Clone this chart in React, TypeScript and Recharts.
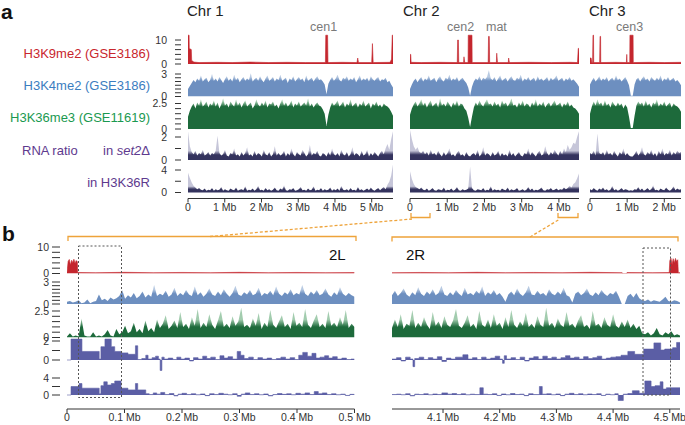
import React from 'react';
import { AreaChart, Area, XAxis, YAxis } from 'recharts';

type Pair = [number, number];
type Pt = { x: number; v: number };

// ---------- panel a: whole chromosomes (Mb) ----------
const chrNames = ['Chr 1', 'Chr 2', 'Chr 3'];
const chrLengths = [5.58, 4.54, 2.45];
const chrTicks = [[0, 1, 2, 3, 4, 5], [0, 1, 2, 3, 4], [0, 1, 2]];

// H3K9me2: [position Mb, signal]
const k9me2Chr1: Pair[] = [
  [0, 12], [0.03, 12], [0.035, 6.5], [0.09, 6], [0.1, 1.5], [0.16, 0.8], [0.3, 0.6], [0.8, 0.7], [1.2, 0.6],
  [1.7, 0.8], [2.2, 0.6], [2.7, 0.7], [3.2, 0.6], [3.74, 0.6], [3.75, 12], [3.8, 12], [3.81, 0.6], [4.2, 0.7],
  [4.6, 0.6], [4.62, 2.5], [4.64, 0.6], [5.0, 0.6], [5.02, 8.5], [5.04, 0.6], [5.5, 0.7], [5.54, 2], [5.56, 12], [5.58, 12],
];
const k9me2Chr2: Pair[] = [
  [0, 4], [0.02, 4], [0.03, 0.7], [0.3, 0.6], [0.8, 0.7], [1.27, 0.6], [1.28, 10], [1.3, 10], [1.31, 0.6],
  [1.44, 0.6], [1.45, 3], [1.47, 0.6], [1.56, 0.6], [1.565, 12], [1.665, 12], [1.67, 0.6], [2.1, 0.6],
  [2.11, 11.5], [2.13, 11.5], [2.14, 0.6], [2.32, 0.6], [2.33, 4.5], [2.35, 0.6], [2.64, 0.6], [2.65, 2.5],
  [2.67, 0.6], [3.2, 0.7], [3.8, 0.6], [4.3, 0.7], [4.5, 0.6], [4.52, 6.5], [4.54, 6.5],
];
const k9me2Chr3: Pair[] = [
  [0, 2.5], [0.03, 2.5], [0.05, 0.6], [0.07, 0.6], [0.08, 12], [0.095, 12], [0.1, 0.6], [0.26, 0.6],
  [0.27, 11.5], [0.285, 11.5], [0.29, 0.6], [0.7, 0.7], [0.98, 0.6], [0.99, 4], [1.0, 0.6], [1.07, 0.6],
  [1.075, 12], [1.16, 12], [1.165, 0.6], [1.6, 0.7], [2.0, 0.6], [2.45, 0.7],
];

// evenly spaced bins (~50 kb) along each chromosome
const k4me2Chr1 = [
  1.0, 1.4, 1.8, 2.2, 1.9, 2.4, 2.1, 2.8, 2.0, 2.3, 2.5, 1.9, 2.2, 3.0, 2.1, 2.4, 2.0, 2.6, 2.2, 1.8,
  2.3, 2.7, 2.1, 2.4, 2.0, 2.9, 2.2, 2.5, 1.9, 2.3, 2.6, 2.1, 2.4, 2.2, 3.1, 2.0, 2.3, 2.5, 2.1, 2.7,
  2.2, 1.9, 2.4, 2.8, 2.1, 2.3, 2.6, 2.0, 2.4, 2.2, 2.9, 2.1, 2.3, 2.5, 1.8, 2.4, 2.2, 2.7, 2.0, 2.3,
  2.6, 2.2, 2.4, 1.9, 2.8, 2.1, 2.3, 2.5, 2.0, 2.4, 2.7, 2.2, 2.3, 2.0, 1.6, 0.3, 1.7, 2.2, 2.6, 2.1,
  2.4, 2.9, 2.2, 2.0, 2.5, 2.3, 2.7, 2.1, 2.4, 2.2, 2.6, 1.9, 2.3, 2.8, 2.1, 2.4, 2.2, 2.5, 2.0, 2.7,
  2.3, 2.1, 2.4, 2.6, 2.0, 2.3, 2.2, 2.5, 1.9, 2.1, 1.6, 1.2,
];
const k4me2Chr2 = [
  1.0, 1.6, 2.1, 2.4, 1.9, 2.3, 2.6, 2.0, 2.4, 2.2, 2.8, 2.1, 2.3, 2.5, 1.9, 2.4, 2.7, 2.2, 2.0, 2.5,
  2.3, 2.9, 2.1, 2.4, 2.2, 2.6, 2.0, 2.3, 2.5, 2.1, 1.8, 1.2, 0.1, 1.3, 2.0, 2.4, 2.2, 2.7, 2.1, 2.5,
  2.3, 2.6, 3.5, 2.4, 2.2, 2.6, 2.0, 2.4, 2.8, 2.1, 2.3, 2.5, 2.0, 2.4, 2.7, 2.2, 2.1, 2.5, 2.3, 2.9,
  2.0, 2.4, 2.2, 2.6, 2.1, 2.3, 2.5, 2.0, 2.7, 2.2, 2.4, 2.1, 2.3, 2.6, 2.0, 2.5, 2.2, 2.4, 2.8, 2.1,
  2.3, 2.5, 2.0, 2.4, 2.2, 2.6, 2.1, 2.3, 2.0, 1.7, 1.3,
];
const k4me2Chr3 = [
  1.6, 2.1, 2.5, 2.0, 2.3, 2.7, 2.1, 2.4, 2.2, 2.6, 2.0, 2.3, 2.5, 2.1, 2.8, 2.2, 2.4, 2.0, 2.3, 2.6,
  2.1, 1.5, 0.1, 0.1, 1.6, 2.3, 2.5, 2.0, 2.4, 2.7, 2.2, 2.4, 2.0, 2.6, 2.3, 2.1, 2.5, 2.2, 2.8, 2.0,
  2.4, 2.2, 2.6, 2.1, 2.3, 2.5, 2.0, 2.2, 1.9, 1.5,
];

const k36me3Chr1 = [
  1.2, 1.8, 2.2, 2.5, 2.0, 2.6, 2.3, 2.9, 2.2, 2.4, 2.7, 2.1, 2.5, 2.3, 2.8, 2.2, 2.6, 2.0, 2.4, 3.0,
  2.3, 2.5, 2.1, 2.7, 2.4, 2.2, 2.9, 2.3, 2.6, 2.1, 2.5, 2.8, 2.2, 2.4, 2.6, 2.0, 2.3, 2.9, 2.4, 2.2,
  2.6, 2.3, 2.8, 2.1, 2.5, 2.4, 2.7, 2.2, 2.4, 2.0, 2.5, 2.9, 2.3, 2.6, 2.2, 2.4, 2.8, 2.1, 2.5, 2.3,
  2.7, 2.2, 2.4, 2.6, 2.3, 3.0, 2.2, 2.5, 2.1, 2.4, 2.6, 2.3, 2.2, 1.9, 1.5, 0.3, 1.4, 2.1, 2.6, 2.3,
  2.5, 2.8, 2.2, 2.4, 2.7, 2.1, 2.5, 2.3, 2.9, 2.2, 2.4, 2.6, 2.1, 2.5, 2.3, 2.8, 2.2, 2.4, 2.6, 2.0,
  2.5, 2.3, 2.7, 2.2, 2.4, 2.1, 2.5, 2.3, 2.2, 2.0, 1.7, 1.3,
];
const k36me3Chr2 = [
  1.4, 2.0, 2.4, 2.7, 2.2, 2.5, 2.9, 2.3, 2.6, 2.1, 2.5, 2.8, 2.2, 2.4, 2.6, 2.1, 3.0, 2.3, 2.5, 2.2,
  2.7, 2.4, 2.1, 2.6, 2.3, 2.8, 2.2, 2.5, 2.4, 2.0, 1.8, 1.1, 0.2, 1.2, 2.1, 2.6, 2.3, 2.8, 2.4, 2.2,
  2.6, 2.9, 2.4, 2.5, 2.2, 2.7, 2.3, 2.5, 2.1, 2.8, 2.4, 2.6, 2.2, 2.5, 3.0, 2.3, 2.4, 2.1, 2.6, 2.3,
  2.8, 2.2, 2.5, 2.4, 2.1, 2.6, 2.3, 2.9, 2.2, 2.5, 2.3, 2.7, 2.1, 2.4, 2.6, 2.2, 2.5, 2.8, 2.3, 2.4,
  2.6, 2.1, 2.5, 2.3, 2.7, 2.2, 2.4, 2.1, 2.0, 1.8, 1.5,
];
const k36me3Chr3 = [
  1.5, 2.2, 2.7, 2.3, 2.9, 2.4, 2.6, 2.2, 2.8, 2.3, 2.5, 2.1, 2.7, 2.4, 2.2, 2.6, 2.3, 2.5, 2.0, 2.4,
  2.1, 1.2, 0.1, 0.1, 1.3, 2.3, 2.7, 2.4, 2.6, 2.2, 2.8, 2.3, 2.5, 2.1, 2.6, 2.4, 2.9, 2.2, 2.5, 2.3,
  2.7, 2.2, 2.4, 2.6, 2.1, 2.5, 2.3, 2.2, 2.0, 1.7,
];

const rnaSet2Chr1 = [
  2.5, 1.2, 0.7, 0.5, 0.8, 0.4, 0.6, 0.5, 0.9, 0.4, 0.5, 0.7, 0.4, 0.6, 0.5, 0.8, 2.1, 0.6, 0.4, 0.5,
  0.9, 0.4, 0.3, 0.6, 0.5, 1.0, 0.4, 0.5, 0.3, 0.7, 0.4, 0.6, 1.1, 0.4, 0.5, 0.3, 0.8, 0.4, 0.6, 0.5,
  0.3, 0.9, 0.5, 0.4, 0.7, 0.3, 0.5, 1.2, 0.4, 0.6, 0.4, 0.5, 0.8, 0.3, 0.6, 0.4, 1.0, 0.5, 0.3, 0.7,
  0.5, 0.4, 0.9, 0.6, 0.3, 0.5, 1.3, 0.4, 0.6, 0.5, 0.8, 0.4, 0.3, 0.6, 0.5, 0.3, 0.7, 0.4, 1.0, 0.5,
  0.4, 0.6, 0.3, 0.9, 0.5, 0.4, 0.7, 0.3, 0.5, 1.1, 0.4, 0.6, 0.5, 0.3, 0.8, 0.4, 0.5, 0.9, 0.3, 0.6,
  0.4, 0.7, 0.5, 0.3, 0.6, 0.8, 0.5, 1.0, 1.4, 0.9, 1.8, 2.5,
];
const rnaSet2Chr2 = [
  2.6, 1.8, 1.2, 0.9, 1.1, 0.7, 0.6, 0.8, 0.5, 0.7, 0.4, 0.9, 0.5, 0.6, 0.4, 0.8, 0.5, 0.3, 0.7, 0.4,
  0.6, 1.0, 0.4, 0.5, 0.3, 0.6, 0.8, 0.4, 0.5, 0.3, 0.7, 0.4, 0.3, 0.5, 0.6, 0.4, 0.9, 0.3, 0.5, 1.1,
  0.4, 0.6, 0.5, 0.3, 0.7, 0.4, 0.5, 0.8, 0.3, 0.6, 0.4, 0.5, 0.3, 0.9, 0.4, 0.6, 0.3, 0.5, 0.7, 0.4,
  0.3, 0.6, 0.5, 1.0, 0.4, 0.7, 0.5, 0.3, 0.6, 0.8, 0.4, 0.5, 1.2, 0.6, 0.4, 0.7, 0.5, 0.9, 0.6, 0.4,
  0.8, 0.5, 1.0, 0.7, 1.3, 0.9, 1.1, 1.5, 1.4, 2.0, 2.5,
];
const rnaSet2Chr3 = [
  0.6, 0.5, 0.8, 0.4, 2.3, 0.6, 0.5, 0.7, 0.4, 0.9, 0.5, 0.6, 0.4, 0.8, 0.5, 0.3, 0.7, 0.5, 1.0, 0.4,
  0.6, 0.4, 0.3, 0.3, 0.5, 0.8, 0.4, 0.6, 1.1, 0.5, 0.4, 0.7, 0.5, 0.9, 0.4, 0.6, 0.3, 0.8, 0.5, 1.0,
  0.4, 0.6, 0.5, 0.9, 0.4, 0.7, 0.5, 0.8, 0.6, 0.7,
];

const rnaK36RChr1 = [
  3.5, 2.6, 1.8, 1.2, 0.9, 0.6, 0.8, 0.5, 0.4, 0.7, 0.3, 0.5, 0.4, 0.8, 0.3, 0.6, 0.4, 0.5, 1.0, 0.3,
  0.6, 0.4, 0.3, 0.7, 0.5, 0.4, 0.9, 0.3, 0.5, 0.6, 0.4, 1.1, 0.3, 0.5, 0.4, 0.7, 0.3, 0.6, 1.2, 0.4,
  0.5, 0.3, 0.8, 0.4, 0.6, 0.3, 0.5, 0.9, 0.4, 0.3, 0.7, 0.5, 1.3, 0.4, 0.3, 0.6, 0.5, 0.8, 0.3, 0.4,
  0.6, 1.0, 0.4, 0.5, 0.3, 0.7, 0.4, 0.5, 1.1, 0.3, 0.5, 0.4, 0.8, 0.3, 0.6, 0.4, 0.5, 0.9, 0.3, 0.6,
  0.4, 0.7, 0.3, 1.2, 0.5, 0.4, 0.6, 0.3, 0.8, 0.4, 0.5, 0.3, 1.0, 0.4, 0.6, 0.3, 0.5, 0.7, 0.4, 0.9,
  0.5, 0.3, 0.6, 0.8, 0.4, 0.7, 1.0, 0.6, 1.4, 1.9, 3.0, 5.0,
];
const rnaK36RChr2 = [
  3.8, 2.4, 1.5, 1.0, 0.8, 0.6, 0.9, 0.5, 0.4, 0.7, 0.3, 0.5, 0.8, 0.4, 0.3, 0.6, 0.5, 0.4, 0.9, 0.3,
  0.5, 0.4, 0.7, 0.3, 0.5, 1.0, 0.4, 0.3, 0.6, 0.4, 0.5, 0.7, 4.6, 0.8, 0.4, 0.3, 0.6, 0.5, 0.4, 0.8,
  0.3, 0.5, 0.4, 1.1, 0.3, 0.6, 0.4, 0.5, 0.3, 0.7, 0.5, 0.4, 0.9, 0.3, 0.6, 0.4, 0.5, 0.8, 0.3, 0.4,
  0.6, 0.3, 0.5, 1.0, 0.4, 0.7, 0.3, 0.5, 0.4, 0.6, 0.9, 0.4, 0.3, 0.6, 0.5, 0.8, 0.4, 0.5, 0.7, 0.4,
  0.6, 0.5, 0.9, 0.6, 0.8, 1.2, 0.9, 1.5, 1.8, 2.5, 3.4,
];
const rnaK36RChr3 = [
  0.6, 0.4, 0.8, 0.5, 0.3, 0.7, 0.5, 0.9, 0.4, 0.6, 0.3, 0.5, 1.2, 0.4, 0.6, 0.3, 0.5, 0.8, 0.4, 0.6,
  0.5, 0.3, 0.4, 0.3, 0.6, 0.5, 1.0, 0.4, 0.7, 0.3, 0.5, 0.8, 0.4, 0.6, 1.3, 0.4, 0.5, 0.3, 0.7, 0.5,
  0.4, 0.9, 0.5, 0.3, 0.6, 1.1, 0.4, 0.7, 0.5, 0.6,
];

// ---------- panel b: chr2 ends, 2L and 2R ----------
const windowL: [number, number] = [0, 0.5];
const windowR: [number, number] = [4.01, 4.518];
const ticksL = [0, 0.1, 0.2, 0.3, 0.4, 0.5];
const ticksR = [4.1, 4.2, 4.3, 4.4, 4.5];

const k9me2L: Pair[] = [
  [0, 0.4], [0.002, 4.6], [0.004, 5.3], [0.006, 3.2], [0.008, 5.0], [0.01, 4.1], [0.012, 5.4], [0.014, 3.8],
  [0.016, 4.9], [0.018, 4.4], [0.0185, 0.4], [0.05, 0.3], [0.1, 0.45], [0.15, 0.3], [0.2, 0.4], [0.25, 0.3],
  [0.3, 0.45], [0.35, 0.3], [0.4, 0.4], [0.45, 0.3], [0.5, 0.35],
];
const k9me2R: Pair[] = [
  [4.01, 0.3], [4.06, 0.4], [4.11, 0.3], [4.16, 0.45], [4.21, 0.3], [4.26, 0.4], [4.31, 0.3], [4.36, 0.45],
  [4.416, 0.3], [4.4165, 0], [4.424, 0], [4.4245, 0.35], [4.47, 0.3], [4.499, 0.35], [4.5, 4.8], [4.502, 5.8],
  [4.504, 3.4], [4.506, 5.6], [4.508, 4.0], [4.51, 5.7], [4.512, 4.5], [4.514, 5.2], [4.515, 0.3], [4.518, 0.3],
];

const k4me2L = [
  0.3, 0.4, 0.2, 0.3, 0.5, 0.1, 0.2, 0.6, 0.1, 0.3, 0.4, 1.3, 0.5, 0.7, 0.4, 0.9, 0.6, 0.8, 1.1, 1.9,
  0.7, 1.2, 0.9, 1.5, 0.8, 1.1, 1.7, 0.9, 1.3, 1.0, 2.6, 1.1, 1.4, 1.2, 1.8, 1.0, 1.3, 2.2, 1.1, 1.5,
  1.2, 1.9, 1.3, 1.1, 2.4, 1.2, 1.6, 1.0, 1.4, 2.1, 1.3, 1.1, 1.7, 1.2, 2.0, 1.4, 1.0, 1.5, 2.5, 1.3,
  1.1, 1.6, 1.3, 1.9, 1.2, 1.4, 2.2, 1.1, 1.5, 1.3, 1.8, 1.2, 2.4, 1.4, 1.1, 1.6, 1.3, 2.0, 1.2, 1.5,
  1.3, 2.6, 1.4, 1.1, 1.7, 1.3, 1.9, 1.2, 1.4, 2.1, 1.3, 1.0, 1.6, 1.2, 2.3, 1.4, 1.1, 1.5, 1.2, 1.0,
];
const k4me2R = [
  1.2, 1.8, 1.1, 1.5, 2.1, 1.3, 1.0, 1.6, 1.2, 2.3, 1.4, 1.1, 1.7, 1.3, 2.0, 1.2, 1.5, 2.5, 1.3, 1.1,
  1.6, 1.2, 1.9, 1.4, 1.1, 2.2, 1.3, 1.5, 1.2, 1.8, 1.4, 2.4, 1.1, 1.6, 1.3, 1.9, 1.2, 1.5, 1.0, 0.3,
  1.3, 1.7, 1.2, 2.1, 1.4, 1.1, 1.6, 2.5, 1.3, 1.2, 1.8, 1.3, 1.5, 1.1, 2.0, 1.4, 1.2, 1.7, 1.3, 2.2,
  1.2, 1.0, 0.2, 1.4, 1.7, 1.2, 1.5, 2.1, 1.3, 1.1, 1.6, 1.2, 1.9, 1.4, 1.1, 1.5, 1.3, 1.8, 1.0, 0.0,
  0.0, 1.1, 1.4, 0.9, 1.5, 0.8, 0.5, 0.4, 0.6, 0.3, 0.5, 0.4, 0.3, 0.6, 1.0, 0.4, 0.3, 0.5, 0.4, 0.2,
];

const k36me3L = [
  0.1, 0.4, 0.1, 0.2, 0.1, 1.8, 0.2, 0.1, 0.1, 0.5, 0.1, 0.2, 0.1, 0.3, 0.7, 0.2, 0.1, 0.8, 0.3, 0.5,
  1.1, 0.4, 0.6, 1.4, 0.5, 0.8, 0.4, 1.6, 0.6, 0.9, 0.5, 1.7, 0.9, 1.3, 2.1, 0.8, 1.1, 1.6, 0.9, 2.4,
  1.0, 1.3, 0.8, 1.9, 1.1, 2.7, 0.9, 1.4, 1.0, 2.2, 1.2, 0.8, 1.6, 2.5, 1.0, 1.3, 0.9, 2.0, 1.1, 1.5,
  2.8, 1.0, 1.2, 0.9, 1.8, 1.1, 2.3, 0.8, 1.4, 1.0, 2.6, 1.2, 0.9, 1.5, 2.1, 1.0, 1.3, 0.8, 2.4, 1.1,
  1.4, 1.0, 2.7, 1.2, 0.9, 1.6, 2.2, 1.0, 1.3, 0.9, 2.5, 1.1, 1.4, 1.0, 1.9, 1.2, 2.6, 0.9, 1.3, 1.0,
];
const k36me3R = [
  0.9, 1.7, 1.0, 2.2, 0.8, 1.3, 1.1, 2.6, 0.9, 1.4, 1.0, 1.9, 1.2, 0.8, 2.4, 1.1, 1.5, 0.9, 2.0, 1.2,
  1.0, 1.6, 2.7, 1.1, 0.9, 1.4, 2.1, 1.0, 1.3, 0.8, 2.5, 1.2, 1.0, 1.7, 0.9, 2.2, 1.1, 1.4, 0.8, 1.9,
  1.0, 2.6, 1.2, 0.9, 1.5, 1.1, 2.3, 1.0, 1.3, 0.9, 2.0, 1.2, 1.0, 2.8, 1.1, 1.4, 0.9, 1.8, 1.2, 1.0,
  2.4, 1.1, 1.3, 0.9, 1.6, 2.1, 1.0, 1.2, 0.8, 2.5, 1.1, 1.3, 0.9, 1.9, 1.2, 1.0, 2.2, 1.1, 0.9, 1.5,
  1.0, 1.7, 0.9, 1.3, 0.8, 1.1, 0.4, 0.3, 0.5, 0.2, 0.4, 0.9, 0.3, 0.2, 0.5, 0.3, 0.6, 0.2, 0.3, 0.2,
];

// RNA ratio segments: [segment start Mb, value]
const rnaSet2L: Pair[] = [
  [0, 0], [0.007, 2.2], [0.026, 0.9], [0.056, 0.1], [0.059, 1.4], [0.066, 2.2], [0.077, 1.4], [0.083, 0.9],
  [0.095, 0.75], [0.106, 0.6], [0.119, 1.5], [0.123, 0.05], [0.13, 0.15], [0.137, 0.5], [0.141, 0.1],
  [0.148, 0.25], [0.154, 0.4], [0.159, 0.1], [0.162, -1.1], [0.165, 0.3], [0.169, 0.1], [0.176, 0.2],
  [0.184, 0.05], [0.191, 0.3], [0.198, 0.1], [0.205, 0.2], [0.213, -0.1], [0.22, 0.25], [0.228, 0.1],
  [0.236, 0.4], [0.243, 0.15], [0.25, 0.3], [0.258, 0.05], [0.266, 0.45], [0.273, 0.2], [0.28, 0.35],
  [0.288, 0.1], [0.296, 0.9], [0.302, 0.5], [0.308, 0.15], [0.316, 0.3], [0.324, 0.05], [0.332, 0.25],
  [0.34, 0.1], [0.348, 0.2], [0.356, 0.05], [0.364, 0.15], [0.372, 0.3], [0.38, 0.1], [0.388, 0.25],
  [0.396, 0.05], [0.403, 0.5], [0.41, 0.8], [0.418, 0.4], [0.426, 0.7], [0.433, 0.2], [0.44, 0.3],
  [0.448, 0.45], [0.455, 0.2], [0.462, 0.35], [0.47, 0.1], [0.478, 0.2], [0.486, 0.05], [0.494, 0.1], [0.5, 0.1],
];
const rnaSet2R: Pair[] = [
  [4.01, 0.1], [4.018, 0.25], [4.026, -0.1], [4.034, 0.3], [4.042, 0.1], [4.047, -0.7], [4.05, 0.15],
  [4.058, 0.3], [4.066, 0.05], [4.074, 0.25], [4.082, 0.1], [4.09, 0.35], [4.098, -0.15], [4.106, 0.2],
  [4.114, 0.1], [4.122, 0.3], [4.135, 0.55], [4.144, 0.1], [4.152, 0.25], [4.16, 0.05], [4.168, 0.3],
  [4.176, 0.1], [4.184, 0.2], [4.192, 0.4], [4.2, 0.1], [4.205, -0.35], [4.208, 0.45], [4.212, 0.1],
  [4.22, 0.25], [4.228, 0.05], [4.236, 0.3], [4.244, -0.1], [4.252, 0.2], [4.26, 0.35], [4.268, 0.1],
  [4.276, 0.4], [4.284, 0.15], [4.292, 0.3], [4.3, 0.1], [4.308, 0.25], [4.316, 0.45], [4.324, 0.2],
  [4.332, 0.3], [4.34, 0.1], [4.348, 0.35], [4.356, 0.15], [4.364, 0.25], [4.372, 0.4], [4.38, 0.1],
  [4.388, 0.2], [4.396, 0.3], [4.405, 0.35], [4.414, 0.5], [4.426, 0.9], [4.438, 0.6], [4.454, 1.15],
  [4.472, 1.8], [4.484, 1.05], [4.491, 1.15], [4.505, 1.3], [4.512, 1.85], [4.518, 1.85],
];
const rnaK36RL: Pair[] = [
  [0, 0], [0.007, 2.0], [0.021, 2.7], [0.026, 1.6], [0.056, 0.3], [0.059, 2.2], [0.064, 3.1], [0.07, 2.35],
  [0.077, 2.7], [0.083, 3.3], [0.094, 1.6], [0.106, 1.2], [0.119, 2.7], [0.123, 1.2], [0.137, 0.3],
  [0.143, 0.1], [0.15, 0.5], [0.156, 0.2], [0.163, 0.6], [0.17, 0.1], [0.178, 0.35], [0.186, -0.2],
  [0.193, 0.2], [0.2, 0.4], [0.208, 0.1], [0.216, 0.3], [0.224, 0.05], [0.232, 0.25], [0.24, -0.15],
  [0.248, 0.3], [0.256, 0.1], [0.264, 0.4], [0.272, 0.2], [0.28, 0.05], [0.288, 0.3], [0.296, -0.3],
  [0.303, 0.2], [0.31, 0.5], [0.318, 0.1], [0.326, 0.3], [0.334, 0.05], [0.342, 0.25], [0.35, -0.2],
  [0.358, 0.1], [0.366, 0.35], [0.374, 0.15], [0.382, 0.3], [0.39, 0.05], [0.398, 0.4], [0.406, 0.2],
  [0.414, 0.5], [0.422, 0.1], [0.43, 0.8], [0.437, 0.3], [0.444, 0.5], [0.452, 0.1], [0.46, 0.3],
  [0.468, 0.05], [0.476, 0.2], [0.484, -0.1], [0.492, 0.15], [0.5, 0.15],
];
const rnaK36RR: Pair[] = [
  [4.01, 0.1], [4.018, 0.2], [4.026, 0.05], [4.034, 0.3], [4.042, -0.2], [4.05, 0.2], [4.058, 0.1],
  [4.066, 0.3], [4.074, 0.05], [4.082, 0.25], [4.09, 0.1], [4.098, 0.5], [4.108, 0.2], [4.116, 0.35],
  [4.124, 0.1], [4.132, 0.3], [4.14, 0.05], [4.148, 0.2], [4.156, 0.1], [4.165, 1.7], [4.171, 0.2],
  [4.179, 0.1], [4.187, 0.3], [4.195, -0.1], [4.203, 0.25], [4.211, 0.05], [4.219, 0.35], [4.227, 0.1],
  [4.235, 0.2], [4.243, -0.15], [4.251, 0.3], [4.259, 0.1], [4.27, 2.0], [4.275, 0.2], [4.283, 0.3],
  [4.291, 0.05], [4.299, 0.25], [4.307, -0.15], [4.315, 0.2], [4.323, 0.4], [4.331, 0.1], [4.339, 0.3],
  [4.347, 0.05], [4.355, 0.25], [4.363, 0.1], [4.371, 0.3], [4.379, -0.1], [4.387, 0.2], [4.395, 0.05],
  [4.403, 0.3], [4.409, -1.3], [4.418, 0.2], [4.426, 0.35], [4.434, 1.0], [4.446, 0.4], [4.456, 3.3],
  [4.467, 2.0], [4.474, 2.2], [4.483, 3.1], [4.488, 1.4], [4.494, 1.7], [4.518, 1.7],
];

// y axis ticks per track row (labelled ones only at the ends)
const yTickSets = [[0, 2, 4, 6, 8, 10], [0, 0.5, 1, 1.5, 2, 2.5, 3], [0, 0.5, 1, 1.5, 2, 2.5], [0, 1, 2], [0, 2, 4]];
const yLabelSets = [[0, 10], [0, 3], [0, 2.5], [0, 2], [0, 4]];

// ---------- drawing ----------
const FONT = '"Liberation Sans", Arial, Helvetica, sans-serif';
const RED = '#c4262e';
const STEP = '#5b5ea5';

type Curve = 'linear' | 'step' | 'stepAfter';
type Band = { T: number; B: number; zero: number; ref: number; refY: number };
type Paint =
  | { kind: 'solid'; color: string }
  | { kind: 'grad'; dark: string; light: string; lo: number; hi: number };

const bandsA: Band[] = [
  { T: 33, B: 64, zero: 64, ref: 10, refY: 40 },
  { T: 66, B: 96.5, zero: 96.5, ref: 3, refY: 74 },
  { T: 97.5, B: 128.5, zero: 128.5, ref: 2.5, refY: 103 },
  { T: 130, B: 160, zero: 160, ref: 2, refY: 137 },
  { T: 163, B: 198.5, zero: 192.5, ref: 4, refY: 170 },
];
const bandsB: Band[] = [
  { T: 243, B: 273.5, zero: 273.5, ref: 10, refY: 247 },
  { T: 276, B: 304, zero: 304, ref: 3, refY: 282 },
  { T: 306, B: 337.5, zero: 337.5, ref: 2.5, refY: 311 },
  { T: 338, B: 371, zero: 360, ref: 2, refY: 341 },
  { T: 372, B: 409, zero: 395, ref: 4, refY: 378 },
];

const binned = (vals: number[], x0: number, x1: number): Pt[] =>
  vals.map((v, i) => ({ x: x0 + ((x1 - x0) * i) / (vals.length - 1), v }));
const paired = (pts: Pair[]): Pt[] => pts.map(([x, v]) => ({ x, v }));

interface TrackProps {
  id: string;
  left: number;
  plotLeft: number;
  right: number;
  band: Band;
  xDomain: [number, number];
  data: Pt[];
  curve: Curve;
  paint: Paint;
  yAxis?: { ticks: number[]; labels: number[]; tickX: [number, number]; labelX: number };
  xAxis?: { ticks: number[]; fmt: (v: number) => string };
}

function Track(p: TrackProps) {
  const { band } = p;
  const ppu = (band.zero - band.refY) / band.ref;
  const yDomain: [number, number] = [-(band.B - band.zero) / ppu, (band.zero - band.T) / ppu];
  const mr = p.xAxis ? 18 : 0;
  const axisH = p.xAxis ? 22 : 0;
  const width = p.right - p.left + mr;
  const height = band.B - band.T + axisH;
  const yw = p.plotLeft - p.left;
  const zeroPx = band.zero - band.T;
  const gid = `grad-${p.id}`;
  const off = (v: number) => Math.min(1, Math.max(0, (zeroPx - v * ppu) / zeroPx));

  let fill = '';
  let stroke = 'none';
  if (p.paint.kind === 'solid') {
    fill = p.paint.color;
    stroke = p.paint.color;
  } else {
    fill = `url(#${gid})`;
  }

  const ya = p.yAxis;
  return (
    <div style={{ position: 'absolute', left: p.left, top: band.T }}>
      <AreaChart width={width} height={height} data={p.data} margin={{ top: 0, right: mr, bottom: 0, left: 0 }}>
        {p.paint.kind === 'grad' && (
          <defs>
            <linearGradient id={gid} gradientUnits="userSpaceOnUse" x1={0} x2={0} y1={0} y2={zeroPx}>
              <stop offset={0} stopColor={p.paint.light} />
              <stop offset={off(p.paint.hi)} stopColor={p.paint.light} />
              <stop offset={off(p.paint.lo)} stopColor={p.paint.dark} />
              <stop offset={1} stopColor={p.paint.dark} />
            </linearGradient>
          </defs>
        )}
        <XAxis
          type="number"
          dataKey="x"
          domain={p.xDomain}
          allowDataOverflow
          hide={!p.xAxis}
          ticks={p.xAxis ? p.xAxis.ticks : undefined}
          tickFormatter={p.xAxis ? p.xAxis.fmt : undefined}
          interval={0}
          height={axisH}
          tickSize={4}
          tickMargin={1}
          axisLine={{ stroke: '#333' }}
          tickLine={{ stroke: '#333' }}
          tick={{ fontSize: 10.5, fill: '#333' }}
        />
        <YAxis
          type="number"
          domain={yDomain}
          allowDataOverflow
          hide={!ya}
          width={yw}
          ticks={ya ? ya.ticks : undefined}
          interval={0}
          axisLine={false}
          tickLine={false}
          tick={
            ya
              ? (tp: any) => (
                  <g>
                    <line x1={ya.tickX[0]} x2={ya.tickX[1]} y1={tp.y} y2={tp.y} stroke="#333" strokeWidth={1} />
                    {ya.labels.includes(tp.payload.value) ? (
                      <text x={ya.labelX} y={tp.y} dy="0.35em" textAnchor="end" fontSize={10.5} fill="#333">
                        {tp.payload.value}
                      </text>
                    ) : null}
                  </g>
                )
              : false
          }
        />
        <Area
          type={p.curve}
          dataKey="v"
          baseValue={0}
          isAnimationActive={false}
          fill={fill}
          fillOpacity={1}
          stroke={stroke}
          strokeWidth={0.6}
          dot={false}
          activeDot={false}
        />
      </AreaChart>
    </div>
  );
}

const colsA = [
  { left: 150, plotLeft: 188, right: 393 },
  { left: 410, plotLeft: 410, right: 579 },
  { left: 590, plotLeft: 590, right: 681 },
];
const k9A = [k9me2Chr1, k9me2Chr2, k9me2Chr3];
const k4A = [k4me2Chr1, k4me2Chr2, k4me2Chr3];
const k36A = [k36me3Chr1, k36me3Chr2, k36me3Chr3];
const set2A = [rnaSet2Chr1, rnaSet2Chr2, rnaSet2Chr3];
const k36rA = [rnaK36RChr1, rnaK36RChr2, rnaK36RChr3];

const mbFmt = (v: number) => (v === 0 ? '0' : `${v} Mb`);

export default function App() {
  const tracks: TrackProps[] = [];

  colsA.forEach((c, ci) => {
    const len = chrLengths[ci];
    const xd: [number, number] = [0, len];
    const rows: { d: Pt[]; curve: Curve; paint: Paint }[] = [
      { d: paired(k9A[ci]), curve: 'linear', paint: { kind: 'solid', color: RED } },
      { d: binned(k4A[ci], 0, len), curve: 'linear', paint: { kind: 'grad', dark: '#6d8fc0', light: '#b8cae2', lo: 2.1, hi: 2.6 } },
      { d: binned(k36A[ci], 0, len), curve: 'linear', paint: { kind: 'grad', dark: '#1d6a3b', light: '#a2ccae', lo: 2.2, hi: 2.7 } },
      { d: binned(set2A[ci], 0, len), curve: 'linear', paint: { kind: 'grad', dark: '#34335e', light: '#c6c6d9', lo: 0.45, hi: 0.8 } },
      { d: binned(k36rA[ci], 0, len), curve: 'linear', paint: { kind: 'grad', dark: '#34335e', light: '#c6c6d9', lo: 0.6, hi: 1.1 } },
    ];
    rows.forEach((r, ri) => {
      tracks.push({
        id: `a${ci}${ri}`,
        left: c.left,
        plotLeft: c.plotLeft,
        right: c.right,
        band: bandsA[ri],
        xDomain: xd,
        data: r.d,
        curve: r.curve,
        paint: r.paint,
        yAxis: ci === 0 ? { ticks: yTickSets[ri], labels: yLabelSets[ri], tickX: [25, 31], labelX: 17 } : undefined,
        xAxis: ri === 4 ? { ticks: chrTicks[ci], fmt: mbFmt } : undefined,
      });
    });
  });

  const colsB = [
    { left: 30, plotLeft: 67, right: 354.5, xd: windowL, ticks: ticksL, k9: k9me2L, k4: k4me2L, k36: k36me3L, s2: rnaSet2L, kr: rnaK36RL },
    { left: 392, plotLeft: 392, right: 680, xd: windowR, ticks: ticksR, k9: k9me2R, k4: k4me2R, k36: k36me3R, s2: rnaSet2R, kr: rnaK36RR },
  ];
  colsB.forEach((c, ci) => {
    const rows: { d: Pt[]; curve: Curve; paint: Paint }[] = [
      { d: paired(c.k9), curve: 'linear', paint: { kind: 'solid', color: RED } },
      { d: binned(c.k4, c.xd[0], c.xd[1]), curve: 'linear', paint: { kind: 'grad', dark: '#6d8fc0', light: '#b8cae2', lo: 1.4, hi: 2.0 } },
      { d: binned(c.k36, c.xd[0], c.xd[1]), curve: 'linear', paint: { kind: 'grad', dark: '#1d6a3b', light: '#a2ccae', lo: 1.0, hi: 1.7 } },
      { d: paired(c.s2), curve: 'stepAfter', paint: { kind: 'solid', color: STEP } },
      { d: paired(c.kr), curve: 'stepAfter', paint: { kind: 'solid', color: STEP } },
    ];
    rows.forEach((r, ri) => {
      tracks.push({
        id: `b${ci}${ri}`,
        left: c.left,
        plotLeft: c.plotLeft,
        right: c.right,
        band: bandsB[ri],
        xDomain: c.xd,
        data: r.d,
        curve: r.curve,
        paint: r.paint,
        yAxis: ci === 0 ? { ticks: yTickSets[ri], labels: yLabelSets[ri], tickX: [22, 30], labelX: 19 } : undefined,
        xAxis: ri === 4 ? { ticks: c.ticks, fmt: mbFmt } : undefined,
      });
    });
  });

  const orange = '#eea33a';
  return (
    <div style={{ position: 'absolute', left: 0, top: 0, width: 685, height: 425, background: '#fff', fontFamily: FONT }}>
      <style>{'.recharts-surface, .recharts-wrapper svg { overflow: visible; }'}</style>
      {tracks.map((t) => (
        <Track key={t.id} {...t} />
      ))}
      <svg width={685} height={425} style={{ position: 'absolute', left: 0, top: 0, zIndex: 2, pointerEvents: 'none' }} fontFamily={FONT}>
        <text x={1} y={19} fontSize={21} fontWeight="bold" fill="#111">a</text>
        <text x={2} y={241} fontSize={21} fontWeight="bold" fill="#111">b</text>

        <text x={187} y={15.5} fontSize={15} fill="#222">{chrNames[0]}</text>
        <text x={403} y={15.5} fontSize={15} fill="#222">{chrNames[1]}</text>
        <text x={589} y={15.5} fontSize={15} fill="#222">{chrNames[2]}</text>

        <text x={310} y={30.5} fontSize={12.5} fill="#7a7a7a">cen1</text>
        <text x={447} y={30.5} fontSize={12.5} fill="#7a7a7a">cen2</text>
        <text x={486} y={30.5} fontSize={12.5} fill="#7a7a7a">mat</text>
        <text x={616} y={30.5} fontSize={12.5} fill="#7a7a7a">cen3</text>

        <text x={150} y={57.5} fontSize={13} textAnchor="end" fill="#c8262d">H3K9me2 (GSE3186)</text>
        <text x={150} y={89.5} fontSize={13} textAnchor="end" fill="#3b7dc0">H3K4me2 (GSE3186)</text>
        <text x={150} y={121.5} fontSize={13} textAnchor="end" fill="#1a9950">H3K36me3 (GSE11619)</text>
        <text x={22} y={155} fontSize={13} fill="#5e3a8e">RNA ratio</text>
        <text x={150} y={155} fontSize={13} textAnchor="end" fill="#5e3a8e">
          in <tspan fontStyle="italic">set2</tspan>Δ
        </text>
        <text x={150} y={187} fontSize={13} textAnchor="end" fill="#5e3a8e">in H3K36R</text>

        <text x={329} y={260} fontSize={15} fill="#111">2L</text>
        <text x={406} y={260} fontSize={15} fill="#111">2R</text>

        <g stroke={orange} strokeWidth={1.3} fill="none">
          <path d="M411,213 V217.5 H430 V213" />
          <path d="M558,213 V217.5 H578 V213" />
          <path d="M68,241 V236.5 H356 V241" />
          <path d="M392,241.5 V237 H678 V241.5" />
          <path d="M210,236.5 L412,219" strokeDasharray="3 2" />
          <path d="M530,237 L560,219" strokeDasharray="3 2" />
        </g>
        <g stroke="#555" strokeWidth={1} fill="none" strokeDasharray="2 2">
          <rect x={78.5} y={246} width={43} height={151.5} />
          <rect x={643} y={248} width={27.5} height={147} />
        </g>
      </svg>
    </div>
  );
}
